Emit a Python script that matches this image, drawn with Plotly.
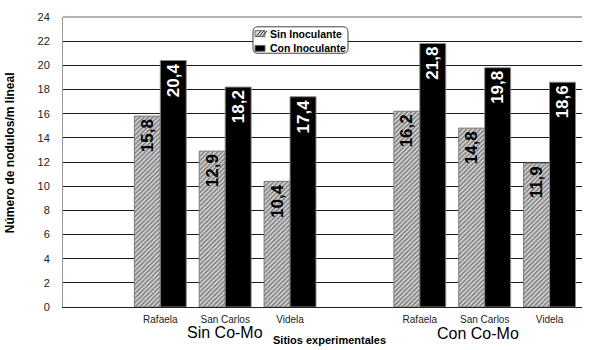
import plotly.graph_objects as go

# ---- data ----
sites = ["Rafaela", "San Carlos", "Videla"]
groups = ["Sin Co-Mo", "Con Co-Mo"]
series_names = ["Sin Inoculante", "Con Inoculante"]
sin_inoculante = [15.8, 12.9, 10.4, 16.2, 14.8, 11.9]
con_inoculante = [20.4, 18.2, 17.4, 21.8, 19.8, 18.6]
y_ticks = [0, 2, 4, 6, 8, 10, 12, 14, 16, 18, 20, 22, 24]

# positions: one empty slot before each group of three sites
xpos = []
labels = []
for g in range(len(groups)):
    for s in range(len(sites)):
        xpos.append(g * (len(sites) + 1) + s + 1)
        labels.append(sites[s])

def fmt(v):
    return f"{v:.1f}".replace(".", ",")

FONT = "Liberation Sans, Arial, sans-serif"

# plot-area geometry in pixels (for placing decorations)
L, R, T, B = 63, 582, 11, 307
def px(x):
    return (x - L) / (R - L)
def py(y):
    return (B - y) / (B - T)

HATCH = dict(shape="/", fgcolor="#1e1e1e", bgcolor="#d4d4d4", size=3.2, solidity=0.45)

fig = go.Figure()
fig.add_trace(go.Bar(
    x=xpos, y=sin_inoculante, name=series_names[0],
    text=[fmt(v) for v in sin_inoculante],
    textposition="inside", insidetextanchor="end", textangle=-90,
    insidetextfont=dict(family=FONT, size=17, color="black", weight="bold"),
    marker=dict(color="#d0d0d0", line=dict(color="#7a7a7a", width=1), pattern=HATCH),
    constraintext="none",
))
fig.add_trace(go.Bar(
    x=xpos, y=con_inoculante, name=series_names[1],
    text=[fmt(v) for v in con_inoculante],
    textposition="inside", insidetextanchor="end", textangle=-90,
    insidetextfont=dict(family=FONT, size=17, color="white", weight="bold"),
    marker=dict(color="black", line=dict(color="#888888", width=1)),
    constraintext="none",
))

annotations = [
    dict(text="Número de nodulos/m lineal", xref="paper", yref="paper",
         x=px(10), y=py(150), textangle=-90, showarrow=False,
         font=dict(family=FONT, size=12, color="black", weight="bold"),
         xanchor="center", yanchor="middle"),
    dict(text="Sitios experimentales", xref="paper", yref="paper",
         x=px(329), y=py(341), showarrow=False,
         font=dict(family=FONT, size=11, color="black", weight="bold"),
         xanchor="center", yanchor="middle"),
]
group_shift = [0, -7]
group_y = [333, 334]
for g, name in enumerate(groups):
    gx = xpos[g * len(sites):(g + 1) * len(sites)]
    annotations.append(dict(
        text=name, xref="x", yref="paper", x=sum(gx) / len(gx), xshift=group_shift[g],
        y=py(group_y[g]), showarrow=False,
        font=dict(family=FONT, size=16, color="black"),
        xanchor="center", yanchor="middle"))

# ---- custom compact legend (rounded box) ----
lx0, lx1, ly0, ly1, r = 253, 348, 21, 48, 5
def rounded_path(x0, x1, y0, y1, r):
    pts = [
        f"M {px(x0 + r)} {py(y0)}", f"L {px(x1 - r)} {py(y0)}",
        f"Q {px(x1)} {py(y0)} {px(x1)} {py(y0 + r)}", f"L {px(x1)} {py(y1 - r)}",
        f"Q {px(x1)} {py(y1)} {px(x1 - r)} {py(y1)}", f"L {px(x0 + r)} {py(y1)}",
        f"Q {px(x0)} {py(y1)} {px(x0)} {py(y1 - r)}", f"L {px(x0)} {py(y0 + r)}",
        f"Q {px(x0)} {py(y0)} {px(x0 + r)} {py(y0)}", "Z",
    ]
    return " ".join(pts)

shapes = [
    dict(type="line", xref="paper", yref="paper", x0=0, x1=1, y0=1, y1=1,
         line=dict(color="#999999", width=1.5), layer="above"),
    dict(type="path", xref="paper", yref="paper", path=rounded_path(lx0, lx1, ly0, ly1, r),
         fillcolor="white", line=dict(color="#444444", width=1), layer="above"),
    dict(type="rect", xref="paper", yref="paper", x0=px(255), x1=px(265), y0=py(31), y1=py(25),
         fillcolor="#dcdcdc", line=dict(color="#666666", width=1), layer="above"),
    dict(type="rect", xref="paper", yref="paper", x0=px(255), x1=px(265), y0=py(46), y1=py(40),
         fillcolor="black", line=dict(color="#666666", width=1), layer="above"),
]
for k in range(3):
    xa = 256 + 3 * k
    shapes.append(dict(type="line", xref="paper", yref="paper",
                       x0=px(xa), y0=py(31), x1=px(xa + 5), y1=py(25),
                       line=dict(color="#333333", width=1), layer="above"))
for name, yc in zip(series_names, [28.5, 43]):
    annotations.append(dict(text=name, xref="paper", yref="paper", x=px(267.5), y=py(yc),
                            xanchor="left", yanchor="middle", showarrow=False,
                            font=dict(family=FONT, size=10.5, color="black", weight="bold")))

fig.update_layout(
    width=600, height=350,
    margin=dict(l=L, r=600 - R, t=T, b=350 - B),
    paper_bgcolor="white", plot_bgcolor="white",
    barmode="group", bargap=0.2, bargroupgap=0,
    font=dict(family=FONT, color="black"),
    showlegend=False,
    xaxis=dict(range=[-0.5, 7.5], tickmode="array", tickvals=xpos, ticktext=labels,
               showgrid=False, zeroline=False, showline=True, linecolor="#222222",
               linewidth=1, ticks="", ticklabelstandoff=3,
               tickfont=dict(family=FONT, size=10, color="#222222")),
    yaxis=dict(range=[0, 24], tickmode="array", tickvals=y_ticks,
               showgrid=True, gridcolor="#1a1a1a", gridwidth=1,
               zeroline=False, showline=True, linecolor="#999999", linewidth=1,
               ticks="", ticklabelstandoff=10,
               tickfont=dict(family=FONT, size=11, color="#222222")),
    annotations=annotations,
    shapes=shapes,
)

fig.write_html("out.html")
